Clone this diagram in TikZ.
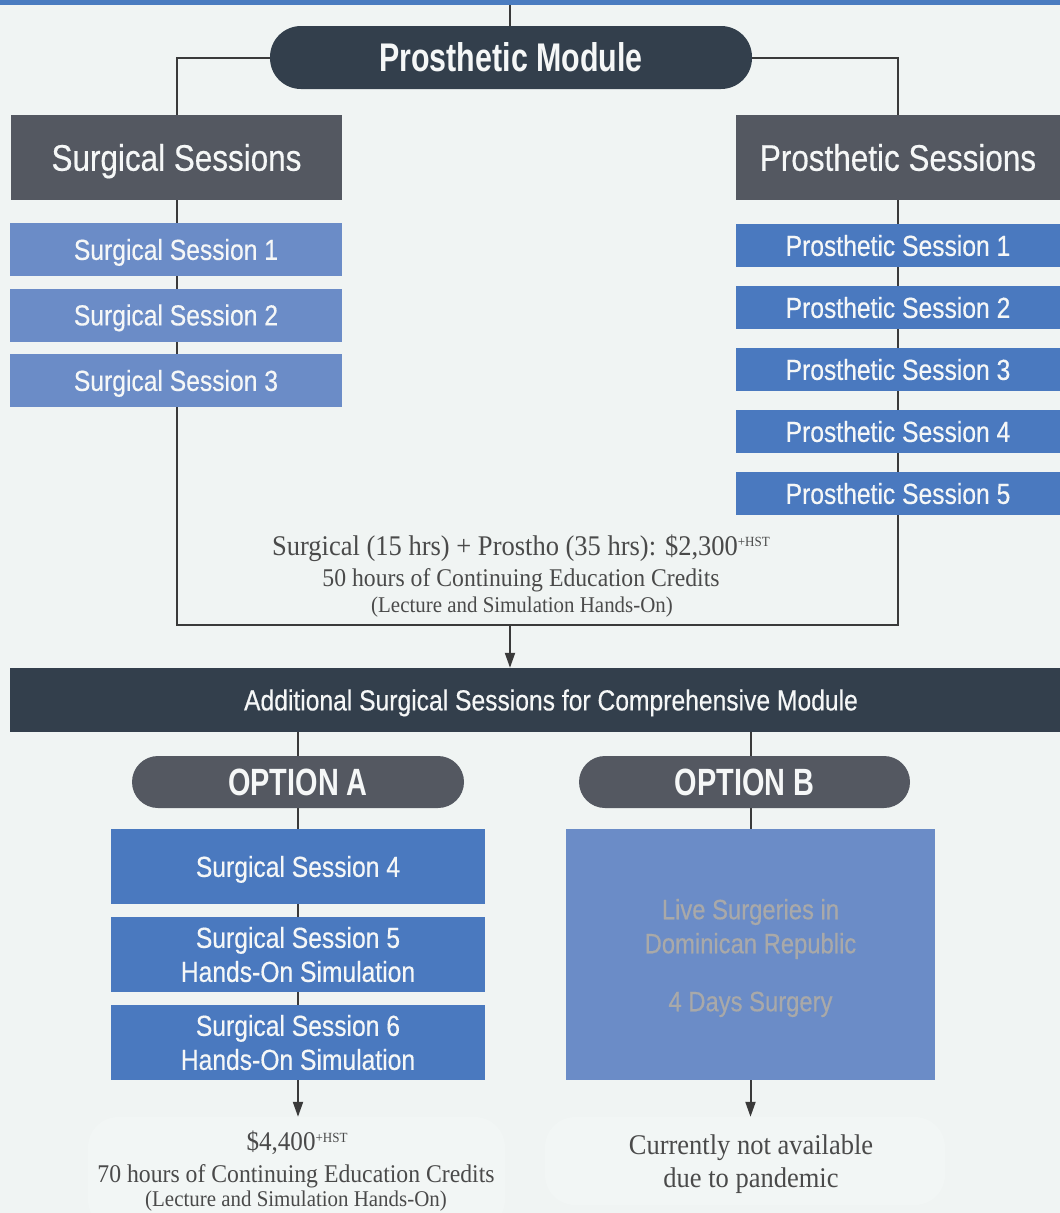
\documentclass[tikz,border=0pt]{standalone}
\usepackage{fontspec}
\setmainfont{Liberation Serif}
\newfontfamily\cnd[FakeStretch=0.85,FakeBold=0.4]{Liberation Sans}
\newfontfamily\cndb[FakeStretch=0.76]{Liberation Sans Bold}
\newfontfamily\srf[FakeStretch=0.93]{Liberation Serif}
\usetikzlibrary{arrows.meta}
\pgfdeclarelayer{back}
\pgfdeclarelayer{bg}
\pgfsetlayers{back,bg,main}
\definecolor{bgc}{HTML}{F0F4F3}
\definecolor{darkc}{HTML}{333F4C}
\definecolor{grayc}{HTML}{545861}
\definecolor{lblue}{HTML}{6B8CC7}
\definecolor{dblue}{HTML}{4A79BF}
\definecolor{topc}{HTML}{4A7CC0}
\definecolor{linec}{HTML}{3A3A3A}
\definecolor{stxt}{HTML}{4A4A4A}
\definecolor{gtxt}{HTML}{A9A9A9}
\definecolor{wtxt}{HTML}{F5F7F7}
\definecolor{faint}{HTML}{F2F6F5}
\newcommand\hstsup{\raisebox{0.3em}{\fontsize{14}{14}\selectfont +HST}}
\tikzset{
  base/.style={rectangle, inner sep=0pt, text=wtxt, align=center},
  hdr/.style={base, fill=grayc, font=\cnd\fontsize{37}{42}\selectfont, text height=26.5pt, text depth=0pt},
  pill/.style={base, font=\cndb\fontsize{40}{44}\selectfont, text height=28.6pt, text depth=0pt},
  optpill/.style={base, fill=grayc, rounded corners=26pt, minimum height=52pt, font=\cndb\fontsize{38}{42}\selectfont, text height=27.2pt, text depth=0pt},
  one/.style={text height=20.8pt, text depth=0pt},
  sesl/.style={base, one, fill=lblue, font=\cnd\fontsize{29}{34}\selectfont},
  sesd/.style={base, one, fill=dblue, font=\cnd\fontsize{29}{34}\selectfont},
  sesm/.style={base, fill=dblue, font=\cnd\fontsize{29}{34}\selectfont},
  conn/.style={draw=linec, line width=2pt},
  arr/.style={conn, -{Triangle[length=15pt,width=10pt]}},
  fbox/.style={rectangle, rounded corners=30pt, fill=faint, inner sep=0pt},
  stext/.style={text=stxt, inner sep=0pt}
}
\begin{document}
\begin{tikzpicture}[x=1pt,y=-1pt]
\useasboundingbox (0,0) rectangle (1060,1213);
\begin{pgfonlayer}{back}
\fill[bgc] (0,0) rectangle (1060,1213);
\end{pgfonlayer}
\fill[topc] (0,0) rectangle (1060,5);
\coordinate (top) at (510,5);
\coordinate (jm) at (510,625);
% top pill
\node[pill, fill=darkc, rounded corners=31pt, minimum width=482pt, minimum height=63pt] (pm) at (511,57.5) {Prosthetic Module};
% headers
\node[hdr, minimum width=331pt, minimum height=85pt] (ss) at (176.5,157.5) {Surgical Sessions};
\node[hdr, minimum width=324pt, minimum height=85pt] (ps) at (898,157.5) {Prosthetic Sessions};
% surgical sessions
\node[sesl, minimum width=332pt, minimum height=53pt] (s1) at (176,249.5) {Surgical Session 1};
\node[sesl, minimum width=332pt, minimum height=53pt] (s2) at (176,315) {Surgical Session 2};
\node[sesl, minimum width=332pt, minimum height=53pt] (s3) at (176,380.5) {Surgical Session 3};
% prosthetic sessions
\node[sesd, minimum width=324pt, minimum height=43pt] (p1) at (898,245.5) {Prosthetic Session 1};
\node[sesd, minimum width=324pt, minimum height=43pt] (p2) at (898,307.5) {Prosthetic Session 2};
\node[sesd, minimum width=324pt, minimum height=43pt] (p3) at (898,369.5) {Prosthetic Session 3};
\node[sesd, minimum width=324pt, minimum height=43pt] (p4) at (898,431.5) {Prosthetic Session 4};
\node[sesd, minimum width=324pt, minimum height=43pt] (p5) at (898,493.5) {Prosthetic Session 5};
% summary text
\node[stext, font=\srf\fontsize{28.5}{32}\selectfont] (t1) at (521,548) {Surgical (15 hrs) + Prostho (35 hrs): \$2,300\hstsup};
\node[stext, font=\srf\fontsize{25.5}{30}\selectfont] (t2) at (521,580) {50 hours of Continuing Education Credits};
\node[stext, font=\srf\fontsize{22.5}{26}\selectfont] (t3) at (522,607) {(Lecture and Simulation Hands-On)};
% bar
\node[base, one, fill=darkc, minimum width=1082pt, minimum height=64pt, font=\cnd\fontsize{29}{34}\selectfont] (bar) at (551,700) {Additional Surgical Sessions for Comprehensive Module};
% options
\node[optpill, minimum width=332pt] (oa) at (298,782) {OPTION A};
\node[optpill, minimum width=331pt] (ob) at (744.5,782) {OPTION B};
% option A sessions
\node[sesd, minimum width=374pt, minimum height=75pt] (s4) at (298,866.5) {Surgical Session 4};
\node[sesm, minimum width=374pt, minimum height=75pt] (s5) at (298,954.5) {Surgical Session 5\\Hands-On Simulation};
\node[sesm, minimum width=374pt, minimum height=75pt] (s6) at (298,1042.5) {Surgical Session 6\\Hands-On Simulation};
% option B box
\node[base, fill=lblue, minimum width=369pt, minimum height=251pt] (lb) at (750.5,954.5) {};
\node[base, text=gtxt, font=\cnd\fontsize{28}{34}\selectfont] (lbt) at (750.5,958) {Live Surgeries in\\Dominican Republic\\[24pt]4 Days Surgery};
% faint boxes
\node[fbox, minimum width=417pt, minimum height=113pt] (fa) at (296.5,1173.5) {};
\node[fbox, minimum width=400pt, minimum height=88pt] (fb) at (745,1161) {};
\node[stext, font=\srf\fontsize{27}{30}\selectfont] (a1) at (297,1143) {\$4,400\hstsup};
\node[stext, font=\srf\fontsize{25.5}{30}\selectfont] (a2) at (296,1176) {70 hours of Continuing Education Credits};
\node[stext, font=\srf\fontsize{22.5}{26}\selectfont] (a3) at (296,1201) {(Lecture and Simulation Hands-On)};
\node[stext, font=\srf\fontsize{28.5}{32}\selectfont] (b1) at (751,1148) {Currently not available};
\node[stext, font=\srf\fontsize{28.5}{32}\selectfont] (b2) at (751,1181) {due to pandemic};
% connectors
\begin{pgfonlayer}{bg}
\draw[conn] (top) -- (top |- pm.north);
\draw[conn] (pm.west) -| (ss.north);
\draw[conn] (pm.east) -| (ps.north);
\draw[conn] (ss.south) -- (ss.south |- jm) -- (ps.south |- jm) -- (ps.south);
\draw[conn] (s4.north |- bar.south) -- (s6.south);
\draw[conn] (lb.north |- bar.south) -- (lb.north);
\end{pgfonlayer}
\draw[arr] (jm) -- (jm |- bar.north);
\draw[arr] (s6.south) -- (s6.south |- fa.north);
\draw[arr] (lb.south) -- (lb.south |- fb.north);
\end{tikzpicture}
\end{document}
